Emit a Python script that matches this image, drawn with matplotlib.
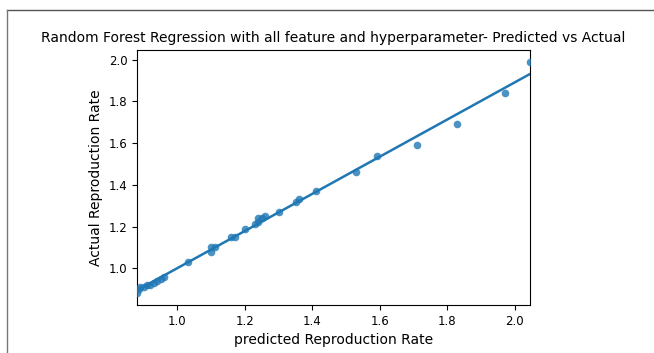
import matplotlib
matplotlib.use('Agg')
from matplotlib import pyplot as plt
from matplotlib.lines import Line2D
import numpy as np

# predicted vs actual reproduction rate
predicted = [0.88, 0.885, 0.89, 0.90, 0.91, 0.92, 0.93, 0.94, 0.95, 0.96,
             1.03, 1.10, 1.10, 1.11, 1.16, 1.17, 1.20, 1.23, 1.24, 1.24,
             1.25, 1.26, 1.30, 1.35, 1.36, 1.41, 1.53, 1.59, 1.71, 1.83,
             1.97, 2.045]
actual = [0.88, 0.90, 0.91, 0.91, 0.92, 0.92, 0.93, 0.94, 0.95, 0.96,
          1.03, 1.08, 1.10, 1.10, 1.15, 1.15, 1.19, 1.21, 1.22, 1.24,
          1.24, 1.25, 1.27, 1.32, 1.33, 1.37, 1.46, 1.54, 1.59, 1.69,
          1.84, 1.99]

x = np.array(predicted)
y = np.array(actual)

fig = plt.figure(figsize=(6.54, 3.53), dpi=100)
ax = fig.add_axes([137/654, 48/353, 393/654, 255/353])

ax.scatter(x, y, s=30, color='#1f77b4', alpha=0.8, linewidths=0, zorder=3)

# regression line over the data range
coef = np.polyfit(x, y, 1)
grid = np.linspace(x.min(), x.max(), 100)
ax.plot(grid, np.polyval(coef, grid), color='#1f77b4', lw=1.8)

ax.set_xlim(x.min(), x.max())
ax.set_xticks([1.0, 1.2, 1.4, 1.6, 1.8, 2.0])
ax.set_yticks([1.0, 1.2, 1.4, 1.6, 1.8, 2.0])
ax.tick_params(labelsize=8.5)

ax.set_title("Random Forest Regression with all feature and hyperparameter- Predicted vs Actual",
             fontsize=10)
ax.set_xlabel("predicted Reproduction Rate", fontsize=10)
ax.set_ylabel("Actual Reproduction Rate", fontsize=10)

# screenshot frame
fig.add_artist(Line2D([7/654, 1], [1 - 10/353, 1 - 10/353], color='#555555', lw=1))
fig.add_artist(Line2D([7/654, 7/654], [0, 1 - 10/353], color='#777777', lw=1))

plt.savefig("out.png", dpi=100)
